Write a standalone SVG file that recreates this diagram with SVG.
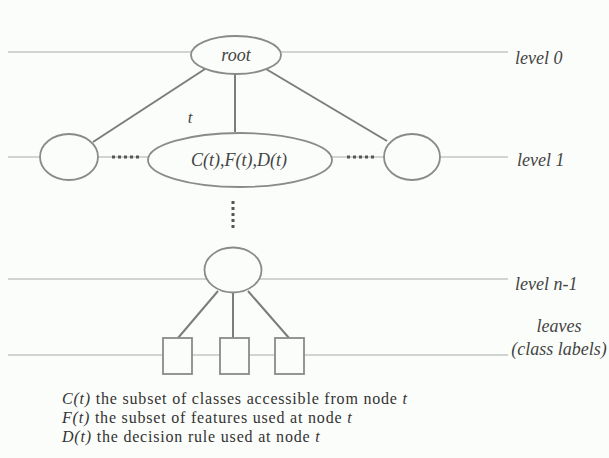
<svg xmlns="http://www.w3.org/2000/svg" width="609" height="458" viewBox="0 0 609 458">
<style>
.bg{fill:#fbfdfa}
.lvl{stroke:#d2d4d0;stroke-width:2;fill:none}
.node{fill:#fbfdfa;stroke:#8a8a8a;stroke-width:1.8}
.edge{stroke:#7c7c7c;stroke-width:2;fill:none}
.dots{stroke:#555;stroke-width:3;stroke-dasharray:3 3;fill:none}
.it{font-family:"Liberation Serif",serif;font-style:italic;fill:#444}
.lbl{font-family:"Liberation Serif",serif;font-style:italic;font-size:18px;fill:#444}
.leg{font-family:"Liberation Serif",serif;font-size:16px;letter-spacing:0.8px;fill:#333}
</style>
<rect class="bg" x="0" y="0" width="609" height="458"/>
<g id="levels">
<line class="lvl" x1="8" y1="52" x2="508" y2="52"/>
<line class="lvl" x1="8" y1="157" x2="508" y2="157"/>
<line class="lvl" x1="8" y1="279" x2="508" y2="279"/>
<line class="lvl" x1="8" y1="355" x2="508" y2="355"/>
</g>
<g id="connectors">
<line class="edge" x1="205" y1="69" x2="93" y2="142"/>
<line class="edge" x1="235" y1="74" x2="235" y2="132"/>
<line class="edge" x1="266" y1="69" x2="387" y2="141"/>
<line class="edge" x1="218" y1="291" x2="178" y2="338"/>
<line class="edge" x1="233" y1="293" x2="233" y2="338"/>
<line class="edge" x1="248" y1="291" x2="289" y2="338"/>
<line class="dots" x1="112" y1="157" x2="139" y2="157"/>
<line class="dots" x1="347" y1="157" x2="374" y2="157"/>
<line class="dots" x1="233" y1="201" x2="233" y2="228"/>
</g>
<g id="root">
<ellipse class="node" cx="236" cy="55" rx="45" ry="19"/>
<text class="it" x="236" y="61" font-size="18" text-anchor="middle">root</text>
</g>
<g id="left">
<ellipse class="node" cx="69" cy="157" rx="29" ry="23"/>
</g>
<g id="t-node">
<ellipse class="node" cx="240" cy="160" rx="92" ry="27"/>
<text class="it" x="239" y="166" font-size="18" text-anchor="middle">C(t),F(t),D(t)</text>
</g>
<g id="right">
<ellipse class="node" cx="412" cy="157" rx="28" ry="23"/>
</g>
<g id="nminus1">
<ellipse class="node" cx="233" cy="270" rx="28.5" ry="22.5"/>
</g>
<g id="leaf1"><rect class="node" x="163" y="338" width="29" height="36"/></g>
<g id="leaf2"><rect class="node" x="220" y="338" width="29" height="36"/></g>
<g id="leaf3"><rect class="node" x="275" y="338" width="29" height="36"/></g>
<text class="it" x="190" y="123" font-size="17" text-anchor="middle">t</text>
<g id="labels">
<text class="lbl" x="515" y="64">level 0</text>
<text class="lbl" x="517" y="166">level 1</text>
<text class="lbl" x="515" y="290">level n-1</text>
<text class="lbl" x="559" y="332" text-anchor="middle">leaves</text>
<text class="lbl" x="559" y="355" text-anchor="middle">(class labels)</text>
</g>
<g id="legend">
<text class="leg" x="62" y="404"><tspan font-style="italic">C(t)</tspan> the subset of classes accessible from node <tspan font-style="italic">t</tspan></text>
<text class="leg" x="62" y="423"><tspan font-style="italic">F(t)</tspan> the subset of features used at node <tspan font-style="italic">t</tspan></text>
<text class="leg" x="62" y="442"><tspan font-style="italic">D(t)</tspan> the decision rule used at node <tspan font-style="italic">t</tspan></text>
</g>
</svg>
